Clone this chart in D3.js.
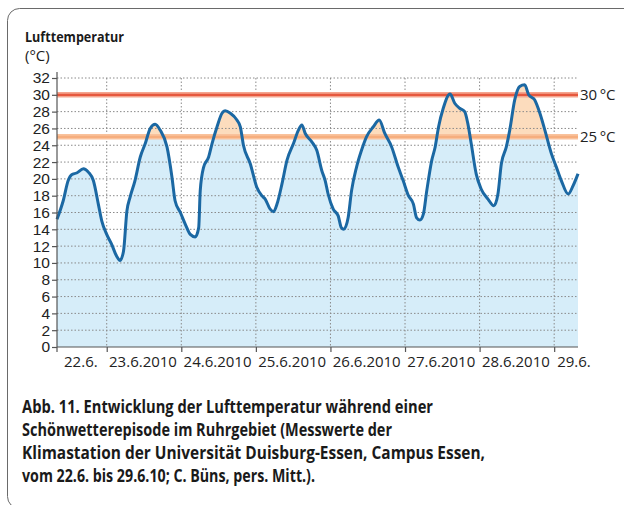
<!DOCTYPE html>
<html>
<head>
<meta charset="utf-8">
<script src="https://cdn.jsdelivr.net/npm/d3@7"></script>
<style>
  html, body { margin: 0; padding: 0; background: #fff; }
  svg { display: block; font-family: "Open Sans", "Noto Sans", sans-serif; }
</style>
</head>
<body>
<svg id="chart" width="624" height="505"></svg>
<script>
(function (window) {
  'use strict';

  var times = [
    '2010-06-22 08:00', '2010-06-22 10:00', '2010-06-22 11:36', '2010-06-22 12:42', '2010-06-22 14:18',
    '2010-06-22 16:30', '2010-06-22 18:06', '2010-06-22 19:42', '2010-06-22 21:18', '2010-06-22 22:24',
    '2010-06-23 00:00', '2010-06-23 01:36', '2010-06-23 03:12', '2010-06-23 04:18', '2010-06-23 05:24',
    '2010-06-23 06:30', '2010-06-23 07:30', '2010-06-23 09:06', '2010-06-23 10:48', '2010-06-23 12:24',
    '2010-06-23 14:00', '2010-06-23 15:36', '2010-06-23 17:12', '2010-06-23 19:24', '2010-06-23 21:00',
    '2010-06-23 22:00', '2010-06-23 23:42', '2010-06-24 01:18', '2010-06-24 02:54', '2010-06-24 04:30',
    '2010-06-24 05:36', '2010-06-24 06:06', '2010-06-24 07:12', '2010-06-24 08:48', '2010-06-24 09:54',
    '2010-06-24 11:30', '2010-06-24 13:06', '2010-06-24 14:06', '2010-06-24 15:48', '2010-06-24 17:54',
    '2010-06-24 19:00', '2010-06-24 20:00', '2010-06-24 22:12', '2010-06-25 00:18', '2010-06-25 01:54',
    '2010-06-25 03:00', '2010-06-25 04:36', '2010-06-25 05:42', '2010-06-25 06:48', '2010-06-25 08:24',
    '2010-06-25 10:00', '2010-06-25 12:06', '2010-06-25 13:42', '2010-06-25 14:48', '2010-06-25 15:54',
    '2010-06-25 18:00', '2010-06-25 19:36', '2010-06-25 21:12', '2010-06-25 22:18', '2010-06-25 23:15',
    '2010-06-26 00:54', '2010-06-26 02:30', '2010-06-26 03:30', '2010-06-26 04:18', '2010-06-26 05:42',
    '2010-06-26 06:48', '2010-06-26 08:24', '2010-06-26 10:00', '2010-06-26 11:36', '2010-06-26 13:48',
    '2010-06-26 15:42', '2010-06-26 17:30', '2010-06-26 19:42', '2010-06-26 21:48', '2010-06-26 23:24',
    '2010-06-27 01:06', '2010-06-27 02:42', '2010-06-27 03:42', '2010-06-27 04:48', '2010-06-27 05:54',
    '2010-06-27 07:00', '2010-06-27 08:36', '2010-06-27 09:42', '2010-06-27 10:48', '2010-06-27 12:18',
    '2010-06-27 14:30', '2010-06-27 16:00', '2010-06-27 17:36', '2010-06-27 19:12', '2010-06-27 20:12',
    '2010-06-27 21:18', '2010-06-27 22:54', '2010-06-28 00:30', '2010-06-28 02:42', '2010-06-28 04:36',
    '2010-06-28 05:54', '2010-06-28 07:00', '2010-06-28 08:36', '2010-06-28 09:42', '2010-06-28 11:18',
    '2010-06-28 12:54', '2010-06-28 14:30', '2010-06-28 15:48', '2010-06-28 17:42', '2010-06-28 19:24',
    '2010-06-28 21:00', '2010-06-28 23:06', '2010-06-29 00:42', '2010-06-29 02:18', '2010-06-29 04:30',
    '2010-06-29 06:06', '2010-06-29 07:40'
  ];
  var temps = [
    15.2, 17.4, 19.8, 20.5, 20.7,
    21.2, 20.8, 19.8, 17.0, 15.0,
    13.4, 12.2, 10.8, 10.3, 11.4,
    16.2, 17.8, 19.8, 22.6, 24.2,
    26.0, 26.5, 25.8, 23.8, 20.2,
    17.4, 16.0, 14.6, 13.4, 13.1,
    14.2, 18.6, 21.4, 22.6, 24.2,
    26.2, 27.8, 28.1, 27.8, 27.0,
    26.2, 24.0, 21.8, 19.0, 18.0,
    17.6, 16.4, 16.1, 17.0, 19.4,
    22.2, 24.2, 25.8, 26.4, 25.4,
    24.4, 23.4, 21.0, 19.8, 18.2,
    16.4, 15.6, 14.2, 14.0, 15.4,
    18.6, 21.4, 23.4, 25.0, 26.2,
    27.0, 25.4, 23.8, 21.4, 19.8,
    18.0, 17.0, 15.4, 15.1, 15.8,
    18.6, 22.2, 23.8, 26.2, 28.4,
    30.1, 29.0, 28.4, 28.0, 26.6,
    24.2, 20.6, 18.8, 17.6, 16.8,
    18.2, 21.8, 23.8, 25.8, 29.4,
    31.0, 31.2, 30.0, 29.4, 27.8,
    25.8, 23.0, 21.4, 19.8, 18.2,
    19.2, 20.6
  ];
  var timeDomain = ['2010-06-22 08:00', '2010-06-29 07:40'];
  var dayLabels = ['22.6.', '23.6.2010', '24.6.2010', '25.6.2010', '26.6.2010', '27.6.2010', '28.6.2010', '29.6.'];
  var yTickValues = [0, 2, 4, 6, 8, 10, 12, 14, 16, 18, 20, 22, 24, 26, 28, 30, 32];
  var thresholds = [25, 30];
  var thresholdLabels = ['25\u2009°C', '30\u2009°C'];
  var captionLines = [
    'Abb. 11. Entwicklung der Lufttemperatur während einer',
    'Schönwetterepisode im Ruhrgebiet (Messwerte der',
    'Klimastation der Universität Duisburg-Essen, Campus Essen,',
    'vom 22.6. bis 29.6.10; C. Büns, pers. Mitt.).'
  ];
  // widths the caption lines take in the printed figure
  var captionWidths = [411, 370, 463, 293];

  var parseTime = d3.timeParse('%Y-%m-%d %H:%M');
  var data = times.map(function (t, i) {
    return { date: parseTime(t), value: temps[i] };
  });

  var svg = d3.select('#chart');
  var left = 57, right = 578, top = 78, bottom = 347;

  var x = d3.scaleTime().domain(timeDomain.map(parseTime)).range([left, right]);
  var y = d3.scaleLinear().domain([0, 32]).range([bottom, top]);

  // frame
  svg.append('rect')
    .attr('x', 7.5).attr('y', 8.5)
    .attr('width', 700).attr('height', 500)
    .attr('rx', 12)
    .attr('fill', 'none')
    .attr('stroke', '#6a6a6a')
    .attr('stroke-width', 1);

  svg.append('text')
    .attr('x', 25).attr('y', 42)
    .attr('font-size', 15).attr('font-weight', 700)
    .attr('fill', '#1a1a1a')
    .attr('textLength', 99).attr('lengthAdjust', 'spacingAndGlyphs')
    .text('Lufttemperatur');
  svg.append('text')
    .attr('x', 25).attr('y', 61)
    .attr('font-size', 15)
    .attr('fill', '#1a1a1a')
    .text('(°C)');

  // fills: blue below 25 °C, peach above
  var defs = svg.append('defs');
  var cut = y(thresholds[0]);
  defs.append('clipPath').attr('id', 'clipLow')
    .append('rect').attr('x', left).attr('y', cut).attr('width', right - left).attr('height', bottom - cut);
  defs.append('clipPath').attr('id', 'clipHigh')
    .append('rect').attr('x', left).attr('y', 0).attr('width', right - left).attr('height', cut);

  var area = d3.area()
    .x(function (d) { return x(d.date); })
    .y0(y(0))
    .y1(function (d) { return y(d.value); })
    .curve(d3.curveMonotoneX);

  svg.append('path').datum(data)
    .attr('d', area).attr('fill', '#d6edf9')
    .attr('clip-path', 'url(#clipLow)');
  svg.append('path').datum(data)
    .attr('d', area).attr('fill', '#fcdcbd')
    .attr('clip-path', 'url(#clipHigh)');

  // grid
  var dayStarts = d3.timeDay.range(d3.timeDay.ceil(x.domain()[0]), x.domain()[1]);
  svg.append('g').selectAll('line')
    .data(yTickValues.filter(function (v) { return v > 0; }))
    .join('line')
    .attr('x1', left).attr('x2', right)
    .attr('y1', function (d) { return y(d); })
    .attr('y2', function (d) { return y(d); })
    .attr('stroke', '#8a8a8a').attr('stroke-width', 1)
    .attr('stroke-dasharray', '1.5,2');
  svg.append('g').selectAll('line')
    .data(dayStarts)
    .join('line')
    .attr('x1', function (d) { return x(d); })
    .attr('x2', function (d) { return x(d); })
    .attr('y1', y(32)).attr('y2', bottom)
    .attr('stroke', '#8a8a8a').attr('stroke-width', 1)
    .attr('stroke-dasharray', '1.5,2');

  // threshold bands
  var bandStyles = [
    { outer: '#f9c29c', inner: '#f6ae7e' },
    { outer: '#f4a58f', inner: '#e6583e' }
  ];
  thresholds.forEach(function (t, i) {
    svg.append('line')
      .attr('x1', left).attr('x2', right)
      .attr('y1', y(t)).attr('y2', y(t))
      .attr('stroke', bandStyles[i].outer).attr('stroke-width', 5.5);
    svg.append('line')
      .attr('x1', left).attr('x2', right)
      .attr('y1', y(t)).attr('y2', y(t))
      .attr('stroke', bandStyles[i].inner).attr('stroke-width', 2.2);
    svg.append('text')
      .attr('x', right + 2).attr('y', y(t))
      .attr('dy', '0.35em')
      .attr('font-size', 15).attr('fill', '#222')
      .text(thresholdLabels[i]);
  });

  // temperature curve
  var line = d3.line()
    .x(function (d) { return x(d.date); })
    .y(function (d) { return y(d.value); })
    .curve(d3.curveMonotoneX);
  svg.append('path').datum(data)
    .attr('d', line)
    .attr('fill', 'none')
    .attr('stroke', '#1b68a3')
    .attr('stroke-width', 3)
    .attr('stroke-linejoin', 'round');

  // axes
  var yAxis = svg.append('g')
    .attr('transform', 'translate(' + left + ',0)')
    .call(d3.axisLeft(y).tickValues(yTickValues).tickSize(5).tickPadding(2).tickFormat(d3.format('d')));
  yAxis.select('.domain').attr('d', 'M0,' + (top - 6) + 'V' + (bottom + 5));

  var xAxis = svg.append('g')
    .attr('transform', 'translate(0,' + bottom + ')')
    .call(d3.axisBottom(x).tickValues(dayStarts).tickSize(5).tickFormat(''));
  xAxis.select('.domain').attr('d', 'M' + left + ',0H' + right);

  [yAxis, xAxis].forEach(function (g) {
    g.selectAll('.domain, .tick line').attr('stroke', '#555').attr('stroke-width', 1.2);
    g.selectAll('text').attr('font-size', 15.5).attr('fill', '#222').attr('font-family', null);
  });

  var days = d3.timeDay.range(d3.timeDay.floor(x.domain()[0]), x.domain()[1]);
  var lastDay = days.length - 1;
  svg.append('g').selectAll('text')
    .data(days)
    .join('text')
    .attr('x', function (d, i) {
      if (i === lastDay) return x(d) + 3;
      var a = Math.max(+d, +x.domain()[0]);
      var b = Math.min(+d3.timeDay.offset(d, 1), +x.domain()[1]);
      return (x(a) + x(b)) / 2 - 1;
    })
    .attr('y', 367)
    .attr('text-anchor', function (d, i) { return i === lastDay ? 'start' : 'middle'; })
    .attr('font-size', 15).attr('fill', '#222')
    .text(function (d, i) { return dayLabels[i]; });

  // caption
  svg.append('g').selectAll('text')
    .data(captionLines)
    .join('text')
    .attr('x', 22)
    .attr('y', function (d, i) { return 413 + i * 23; })
    .attr('font-size', 17).attr('font-weight', 700)
    .attr('fill', '#1a1a1a')
    .attr('textLength', function (d, i) { return captionWidths[i]; })
    .attr('lengthAdjust', 'spacingAndGlyphs')
    .text(function (d) { return d; });
})(window);
</script>
</body>
</html>
